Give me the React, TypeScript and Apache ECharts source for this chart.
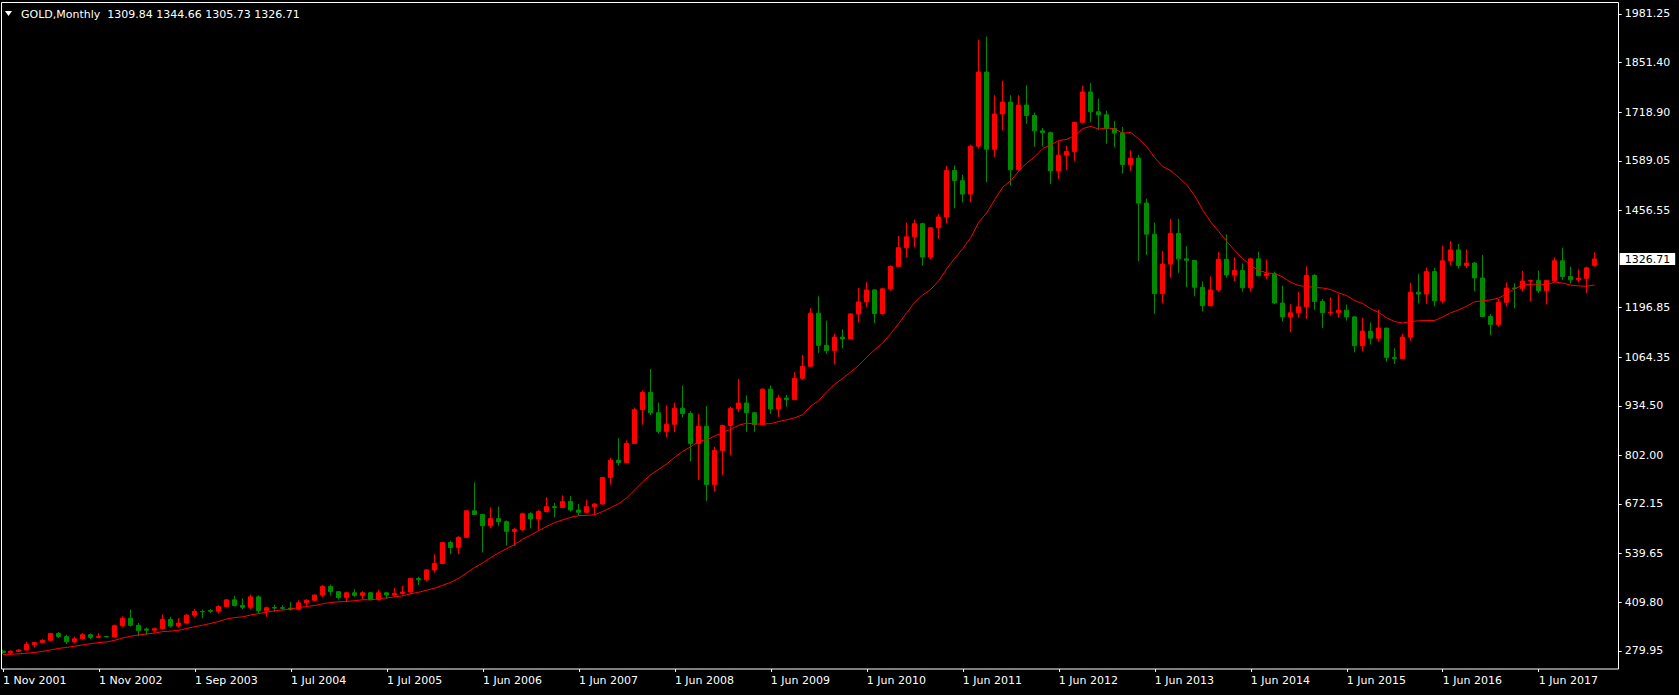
import React, { useEffect, useRef } from "react";
import * as echarts from "echarts";

const TITLE = "GOLD,Monthly  1309.84 1344.66 1305.73 1326.71";

// time-scale labels, one every 12 bars
const X_LABELS = [
  "1 Nov 2001", "1 Nov 2002", "1 Sep 2003", "1 Jul 2004", "1 Jul 2005", "1 Jun 2006",
  "1 Jun 2007", "1 Jun 2008", "1 Jun 2009", "1 Jun 2010", "1 Jun 2011", "1 Jun 2012",
  "1 Jun 2013", "1 Jun 2014", "1 Jun 2015", "1 Jun 2016", "1 Jun 2017",
];
const LABEL_EVERY = 12;

// price-scale labels
const Y_TICKS = [279.95, 409.8, 539.65, 672.15, 802.0, 934.5, 1064.35, 1196.85, 1456.55, 1589.05, 1718.9, 1851.4, 1981.25];
const LAST_PRICE = 1326.71;
const Y_MIN = 231.3;
const Y_MAX = 2010.6;

// monthly bars (200)
const OPEN = [
  279, 275, 278.5, 282, 296.5, 302, 308, 326, 318, 304,
  312, 323, 316, 318, 317, 347, 367, 348, 338, 335,
  339, 364, 346, 354, 375, 385, 387.5, 385.5, 398, 416,
  401, 396, 424, 387, 395.5, 395, 394, 391, 408, 415,
  429, 452, 438, 422, 435, 428, 435, 417, 435, 429,
  433, 437, 473, 470, 496, 513, 569, 556, 583, 654,
  644, 614, 633, 625, 599, 604, 646, 632, 652, 665,
  663, 679, 656, 650, 665, 672, 743, 789, 783, 834,
  924, 970, 916, 866, 885, 928, 914, 834, 880, 724,
  815, 882, 927, 942, 916, 884, 979, 926, 955, 951,
  1008, 1040, 1182, 1096, 1082, 1118, 1113, 1180, 1212, 1244,
  1181, 1247, 1307, 1357, 1386, 1421, 1332, 1410, 1439, 1563,
  1536, 1500, 1628, 1826, 1620, 1714, 1746, 1565, 1738, 1710,
  1669, 1664, 1562, 1604, 1614, 1692, 1773, 1720, 1712, 1675,
  1663, 1579, 1596, 1476, 1393, 1234, 1313, 1395, 1327, 1323,
  1251, 1202, 1244, 1326, 1284, 1296, 1250, 1327, 1282, 1287,
  1209, 1172, 1183, 1199, 1283, 1213, 1183, 1184, 1190, 1172,
  1095, 1134, 1115, 1142, 1064, 1061, 1118, 1238, 1233, 1293,
  1215, 1322, 1351, 1309, 1316, 1276, 1173, 1152, 1211, 1249,
  1248, 1268, 1269, 1242, 1269, 1322, 1280, 1271, 1275, 1309.84,
];
const HIGH = [
  283, 281, 284, 304, 303, 311, 327, 330, 323, 318,
  327, 326, 327, 320, 350, 372, 390, 354, 342, 342,
  377, 371, 367, 378, 392, 390, 391, 402, 417, 427,
  420, 430, 428, 398, 403, 401, 410, 415, 418, 430,
  456, 457, 438.5, 438, 445, 439, 437, 442, 437, 448,
  454, 474, 478, 498, 538, 570, 574, 586, 655, 730,
  645, 663, 665, 628, 608, 649, 650, 656, 690, 675,
  695, 693, 672, 684, 675, 745, 795, 848, 842, 930,
  976, 1033, 943, 936, 943, 988, 920, 912, 934, 825,
  884, 932, 1006, 962, 917, 981, 989, 964, 964, 1024,
  1070, 1195, 1227, 1162, 1127, 1139, 1181, 1249, 1265, 1246,
  1250, 1310, 1388, 1424, 1432, 1424, 1411, 1447, 1575, 1577,
  1552, 1632, 1913, 1921, 1764, 1803, 1764, 1764, 1791, 1718,
  1677, 1667, 1641, 1629, 1693, 1790, 1796, 1755, 1723, 1696,
  1679, 1617, 1605, 1488, 1424, 1348, 1433, 1434, 1361, 1324,
  1267, 1280, 1345, 1392, 1331, 1315, 1330, 1346, 1325, 1293,
  1255, 1206, 1239, 1307, 1286, 1220, 1224, 1232, 1205, 1174,
  1170, 1157, 1191, 1143, 1088, 1127, 1263, 1287, 1304, 1303,
  1362, 1375, 1367, 1352, 1318, 1337, 1180, 1220, 1264, 1262,
  1295, 1272, 1296, 1270, 1331, 1357, 1306, 1299, 1306, 1344.66,
];
const LOW = [
  271.5, 272, 277, 281, 289, 300, 305, 314, 298, 301,
  311, 311, 314, 315, 316, 343, 345, 319, 322, 328,
  336, 342, 341, 351, 370, 367, 381, 379, 397, 398,
  391, 391, 380, 371, 384, 389, 387, 388, 400, 411,
  423, 428, 417, 410, 424, 418, 414, 414, 418, 425,
  430, 432, 456, 465, 489, 512, 538, 538, 582, 643,
  543, 607, 614, 561, 560, 600, 607, 602, 650, 637,
  661, 652, 640, 648, 642, 671, 724, 775, 782, 833,
  884, 910, 860, 851, 864, 903, 786, 736, 681, 705,
  749, 802, 918, 865, 865, 883, 913, 905, 932, 950,
  1003, 1039, 1076, 1073, 1045, 1088, 1112, 1157, 1198, 1155,
  1178, 1242, 1306, 1331, 1358, 1309, 1325, 1381, 1422, 1462,
  1478, 1478, 1622, 1532, 1600, 1670, 1523, 1563, 1688, 1627,
  1627, 1527, 1540, 1564, 1589, 1688, 1692, 1672, 1635, 1625,
  1555, 1562, 1321, 1338, 1180, 1208, 1276, 1290, 1251, 1227,
  1187, 1200, 1239, 1277, 1268, 1240, 1240, 1281, 1273, 1206,
  1160, 1131, 1170, 1167, 1191, 1142, 1175, 1170, 1162, 1077,
  1080, 1098, 1106, 1052, 1046, 1060, 1108, 1208, 1207, 1200,
  1208, 1310, 1301, 1302, 1241, 1171, 1123, 1146, 1200, 1195,
  1240, 1214, 1236, 1205, 1265, 1271, 1261, 1264, 1236, 1305.73,
];
const CLOSE = [
  275, 278.5, 282, 296.5, 302, 308, 326, 318, 304, 312,
  323, 316, 318, 317, 347, 367, 348, 334, 335, 339,
  364, 346, 354, 375, 385, 384, 385.5, 398, 416, 401,
  396, 424, 387, 395, 394, 393.5, 391, 408, 415, 429,
  452, 438, 422, 435, 428, 435, 417, 435, 429, 433,
  437, 473, 470, 496, 513, 569, 556, 583, 654, 644,
  614, 633, 625, 599, 604, 646, 632, 652, 665, 663,
  679, 656, 650, 665, 672, 743, 789, 783, 834, 924,
  970, 916, 866, 885, 928, 914, 834, 880, 724, 815,
  882, 927, 942, 916, 884, 979, 926, 955, 951, 1008,
  1040, 1182, 1096, 1082, 1118, 1113, 1180, 1212, 1244, 1181,
  1247, 1307, 1357, 1386, 1421, 1332, 1410, 1439, 1563, 1536,
  1500, 1628, 1826, 1620, 1714, 1746, 1565, 1738, 1710, 1669,
  1664, 1562, 1604, 1614, 1692, 1773, 1720, 1712, 1675, 1663,
  1579, 1596, 1476, 1393, 1234, 1313, 1395, 1327, 1323, 1251,
  1202, 1244, 1326, 1284, 1296, 1250, 1327, 1282, 1287, 1209,
  1172, 1183, 1199, 1283, 1213, 1183, 1184, 1190, 1172, 1095,
  1134, 1115, 1142, 1064, 1061, 1118, 1238, 1233, 1293, 1215,
  1322, 1351, 1309, 1316, 1276, 1173, 1152, 1211, 1249, 1248,
  1268, 1269, 1242, 1269, 1322, 1280, 1271, 1275, 1303, 1326.71,
];
// closes of the 14 months before the first visible bar (for the moving average)
const PRE_CLOSES = [273, 264, 269, 272, 265, 267, 258, 263, 267, 270, 265, 273, 293, 279];
const MA_PERIOD = 15;
const SLOTS = 203; // bars + empty right shift

const FONT = "'DejaVu Sans', Tahoma, Verdana, sans-serif";
const UP = "#ff0000";
const DOWN = "#008a00";

export default function App() {
  const ref = useRef<HTMLDivElement>(null);

  useEffect(() => {
    const chart = echarts.init(ref.current as HTMLDivElement, null, { renderer: "svg" });

    const categories = Array.from({ length: SLOTS }, (_, i) => String(i));
    const candles = OPEN.map((o, i) => [o, CLOSE[i], LOW[i], HIGH[i]]);
    const all = [...PRE_CLOSES, ...CLOSE];
    const ma = CLOSE.map((_, i) => {
      const end = i + PRE_CLOSES.length;
      let s = 0;
      for (let k = end - MA_PERIOD + 1; k <= end; k++) s += all[k];
      return +(s / MA_PERIOD).toFixed(2);
    });
    const showX = (idx: number) => idx % LABEL_EVERY === 0 && idx / LABEL_EVERY < X_LABELS.length;

    chart.setOption({
      animation: false,
      backgroundColor: "#000000",
      grid: { left: 2.7, right: 60.3, top: 3, bottom: 26, containLabel: false },
      xAxis: {
        type: "category",
        data: categories,
        boundaryGap: false,
        axisLine: { show: false },
        axisTick: { show: true, interval: (i: number) => showX(i), length: 3, lineStyle: { color: "#ffffff", width: 1 } },
        axisLabel: {
          interval: (i: number) => showX(i),
          formatter: (_v: string, i: number) => X_LABELS[i / LABEL_EVERY] ?? "",
          color: "#ffffff",
          fontFamily: FONT,
          fontSize: 11,
          align: "left",
          margin: 6,
        },
        splitLine: { show: false },
      },
      yAxis: {
        type: "value",
        position: "right",
        min: Y_MIN,
        max: Y_MAX,
        axisLine: { show: false },
        axisTick: { show: true, customValues: Y_TICKS, length: 3, lineStyle: { color: "#ffffff", width: 1 } },
        axisLabel: {
          customValues: [...Y_TICKS, LAST_PRICE],
          margin: 1,
          fontFamily: FONT,
          fontSize: 11,
          color: "#ffffff",
          formatter: (v: number) =>
            Math.abs(v - LAST_PRICE) < 1e-6 ? `{cur|${v.toFixed(2)}}` : `{n|${v.toFixed(2)}}`,
          rich: {
            n: { color: "#ffffff", fontFamily: FONT, fontSize: 11, padding: [0, 0, 0, 5] },
            cur: {
              color: "#000000",
              backgroundColor: "#ffffff",
              fontFamily: FONT,
              fontSize: 11,
              lineHeight: 11,
              padding: [1, 5, 0, 5],
            },
          },
        },
        splitLine: { show: false },
      },
      series: [
        {
          type: "candlestick",
          data: candles,
          barWidth: 4.5,
          clip: false,
          itemStyle: {
            color: UP,
            color0: DOWN,
            borderColor: UP,
            borderColor0: DOWN,
            borderWidth: 1,
          },
        },
        {
          type: "line",
          data: ma,
          symbol: "none",
          showSymbol: false,
          smooth: false,
          z: 3,
          lineStyle: { color: "#ff0000", width: 1 },
        },
      ],
      graphic: [
        {
          type: "rect",
          z: 100,
          silent: true,
          shape: { x: 1.5, y: 2.5, width: 1617, height: 666.5 },
          style: { fill: "none", stroke: "#ffffff", lineWidth: 1 },
        },
        {
          type: "polygon",
          z: 100,
          silent: true,
          shape: { points: [[5, 11], [12, 11], [8.5, 16]] },
          style: { fill: "#ffffff" },
        },
        {
          type: "text",
          z: 100,
          silent: true,
          x: 21,
          y: 14,
          style: {
            text: TITLE,
            fill: "#ffffff",
            font: `11px ${FONT}`,
            verticalAlign: "middle",
            align: "left",
          },
        },
      ],
    });

    return () => chart.dispose();
  }, []);

  return (
    <div
      ref={ref}
      style={{ position: "fixed", left: 0, top: 0, width: 1679, height: 695, background: "#000000" }}
    />
  );
}
